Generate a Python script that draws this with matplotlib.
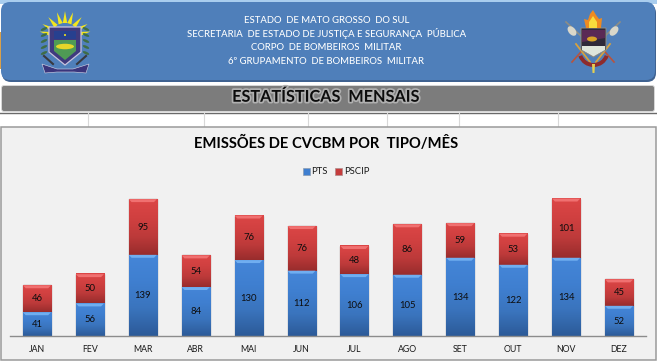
import numpy as np
import matplotlib
matplotlib.use("Agg")
import matplotlib.pyplot as plt
from matplotlib.patches import FancyBboxPatch, Rectangle, Polygon, Circle, Wedge, Ellipse
from matplotlib.colors import LinearSegmentedColormap
import matplotlib.patheffects as pe

# Dados do grafico
meses = ["JAN", "FEV", "MAR", "ABR", "MAI", "JUN", "JUL", "AGO", "SET", "OUT", "NOV", "DEZ"]
pts = [41, 56, 139, 84, 130, 112, 106, 105, 134, 122, 134, 52]
pscip = [46, 50, 95, 54, 76, 76, 48, 86, 59, 53, 101, 45]
cabecalho = [
    "ESTADO  DE MATO GROSSO  DO SUL",
    "SECRETARIA  DE ESTADO DE JUSTIÇA E SEGURANÇA  PÚBLICA",
    "CORPO  DE BOMBEIROS  MILITAR",
    "6º GRUPAMENTO  DE BOMBEIROS  MILITAR",
]

W, H = 657, 361
FONTE = "Lato"
plt.rcParams["font.family"] = [FONTE, "DejaVu Sans"]

fig = plt.figure(figsize=(W / 100, H / 100), dpi=100, facecolor="white")

# Camada de fundo em coordenadas de pixel
bg = fig.add_axes([0, 0, 1, 1], zorder=0)
bg.set_xlim(0, W)
bg.set_ylim(H, 0)
bg.axis("off")


def caixa(x, y, w, h, r, fc, ec="none", lw=0, z=1):
    p = FancyBboxPatch((x + r, y + r), w - 2 * r, h - 2 * r,
                       boxstyle=f"round,pad={r},rounding_size={r}",
                       fc=fc, ec=ec, lw=lw, zorder=z)
    bg.add_patch(p)
    return p


# Faixa azul do cabecalho
bg.add_patch(Rectangle((0, 0), W, 4, fc="#a9cdee", ec="none", zorder=0))
bg.add_patch(Rectangle((0, 32), 2, 37, fc="#d9a04a", ec="none", zorder=0))
caixa(2, 4, 654, 78, 9, "#3f6291", z=1)
caixa(1, 2, 654, 78, 9, "#4f7fba", z=2)
for i, linha in enumerate(cabecalho):
    bg.text(326.5, [20.5, 33.5, 47.5, 61.5][i], linha, color="white", fontsize=6.88, fontweight="medium",
            ha="center", va="center", zorder=5)

# Faixa cinza do titulo
caixa(1, 85, 654, 27, 3, "#d6d6d6", z=1)
caixa(2, 86, 652, 25, 2, "#7c7c7c", z=2)
bg.text(326, 97.5, "ESTATÍSTICAS  MENSAIS", fontsize=11.7, fontweight="bold", color="#0c0c0c",
        ha="center", va="center", zorder=5,
        path_effects=[pe.withStroke(linewidth=2.5, foreground="#b0b0b0")])

# Linha branca com as divisorias da planilha
bg.plot([0, W], [112.5, 112.5], color="#6a6a6a", lw=1, zorder=3)
for x in [87.5, 203.5, 307.5, 386.5, 458.5, 557.5]:
    bg.plot([x, x], [113, 126], color="#d8d8d8", lw=0.8, zorder=3)

# Painel do grafico
bg.add_patch(Rectangle((0.5, 126.5), 655.5, 233.5, fc="#f1f1f1", ec="#9a9a9a", lw=1.1, zorder=3))

# Brasao de MS (esquerda)
raios = np.radians([-78, -60, -40, -18, 0, 18, 40, 60, 78])
for a in raios:
    cx, cy = 65, 37
    dx, dy = np.sin(a), -np.cos(a)
    nx, ny = -dy, dx
    r0, r1 = 14, 26
    bg.add_patch(Polygon([(cx + dx * r0 - nx * 2.2, cy + dy * r0 - ny * 2.2),
                          (cx + dx * r0 + nx * 2.2, cy + dy * r0 + ny * 2.2),
                          (cx + dx * r1, cy + dy * r1)], fc="#f4e61c", ec="none", zorder=4))
bg.add_patch(Polygon([(49, 27), (81, 27), (81, 52), (65, 65), (49, 52)], fc="#3f3a7e", ec="#c8c3dc", lw=0.9, zorder=5))
bg.add_patch(Rectangle((54, 31), 22, 8, fc="#27408f", ec="none", zorder=6))
bg.add_patch(Circle((65, 35), 1, fc="#f4e61c", ec="none", zorder=7))
bg.add_patch(Polygon([(54, 40), (76, 40), (76, 51), (65, 60), (54, 51)], fc="#4f9a55", ec="none", zorder=6))
bg.add_patch(Ellipse((65, 46.5), 18, 5.5, fc="#e5d52a", ec="none", zorder=7))
for lado in (-1, 1):
    for yy in [29, 35, 41, 47, 53]:
        bg.add_patch(Ellipse((65 + lado * 21, yy), 7, 2.6, angle=lado * 25, fc="#3f6d45", ec="none", zorder=4))
    bg.plot([65 + lado * 21, 65 + lado * 12], [56, 64], color="#38393f", lw=1.5, zorder=4)
bg.add_patch(Polygon([(42, 64), (57, 69), (73, 69), (89, 64), (86, 73), (74, 72), (57, 72), (45, 73)],
                     fc="#3a357c", ec="#d8d8e8", lw=0.4, zorder=6))

# Brasao do CBM (direita)
for lado in (-1, 1):
    bg.plot([593 - lado * 3, 593 + lado * 27], [50, 22], color="#8d8d84", lw=1.2, zorder=4)
    bg.add_patch(Ellipse((593 + lado * 21, 31), 7, 11, angle=lado * 40, fc="#d9d7ca", ec="none", zorder=4))
    bg.plot([593 + lado * 5, 593 + lado * 21], [44, 62], color="#b9533c", lw=1.2, zorder=4)
    bg.plot([593 + lado * 3, 593 + lado * 17], [62, 44], color="#d9a23c", lw=1.3, zorder=4)
bg.add_patch(Polygon([(581, 28), (606, 28), (606, 50), (593.5, 57), (581, 50)], fc="#2f2a3a", ec="#8e8e86", lw=0.7, zorder=5))
bg.add_patch(Polygon([(582, 30), (605, 30), (605, 38), (582, 42)], fc="#5a2a55", ec="none", zorder=6))
bg.add_patch(Ellipse((592, 39), 10, 5, fc="#d9a326", ec="none", zorder=7))
bg.add_patch(Polygon([(582, 46), (605, 46), (605, 50), (593.5, 56.5), (582, 50)], fc="#dfe6dc", ec="none", zorder=6))
bg.add_patch(Polygon([(586, 28), (584, 19), (588, 20), (590, 14), (593, 10), (596, 15), (599, 19), (602, 18), (601, 28)],
                     fc="#ee8a20", ec="none", zorder=6))
bg.add_patch(Polygon([(589, 28), (589, 22), (593, 16), (597, 22), (597, 28)], fc="#f8dc3c", ec="none", zorder=7))
bg.add_patch(Wedge((593.5, 51), 16, 20, 160, width=4, fc="#8e2b2b", ec="none", zorder=6))
bg.add_patch(Polygon([(592, 64), (595, 64), (594.5, 73), (592.5, 73)], fc="#e3cf52", ec="none", zorder=6))

# Eixo do grafico
base_px, topo_px = 336.3, 190.0
esq_px, dir_px = 10.5, 645.5
ax = fig.add_axes([esq_px / W, 1 - base_px / H, (dir_px - esq_px) / W, (base_px - topo_px) / H],
                  zorder=2, facecolor="none")

x = np.arange(len(meses))
azul = LinearSegmentedColormap.from_list("azul", ["#4586d8", "#3f7fd0", "#3a74bd", "#2c5a98"])
verm = LinearSegmentedColormap.from_list("verm", ["#dc4646", "#d04040", "#bd3a3a", "#982c2c"])
grad = np.linspace(0, 1, 128).reshape(-1, 1)


def barras(valores, base, cmap, brilho, borda):
    # a borda fica por baixo do gradiente, so aparece um fio em volta da barra
    rects = ax.bar(x, valores, width=0.53, bottom=base, color="none", edgecolor=borda, linewidth=1.0, zorder=1.5)
    for r in rects:
        x0, y0, w, h = r.get_x(), r.get_y(), r.get_width(), r.get_height()
        ax.imshow(grad, extent=(x0, x0 + w, y0, y0 + h), origin="upper", cmap=cmap, aspect="auto", zorder=2,
                  vmin=0, vmax=1)
        # brilho no topo da barra, como no efeito 3D do Excel
        ax.add_patch(Polygon([(x0, y0 + h), (x0 + w, y0 + h), (x0 + w * 0.9, y0 + h - 5), (x0 + w * 0.1, y0 + h - 5)],
                             fc=brilho, ec="none", zorder=2.5))
    return rects


barras(pts, 0, azul, "#70aef0", "#8f99a6")
barras(pscip, pts, verm, "#f07070", "#a89090")
ax.set_xlim(-0.5, 11.5)
ax.set_ylim(0, (base_px - topo_px) / 0.586)

for i in x:
    ax.text(i, pts[i] / 2, str(pts[i]), ha="center", va="center", fontsize=6.8, color="#0d0d0d", zorder=5)
    ax.text(i, pts[i] + pscip[i] / 2, str(pscip[i]), ha="center", va="center", fontsize=6.8, color="#0d0d0d", zorder=5)

for s in ["top", "left", "right"]:
    ax.spines[s].set_visible(False)
ax.spines["bottom"].set_color("#8c8c8c")
ax.spines["bottom"].set_linewidth(1.0)
ax.spines["bottom"].set_zorder(6)
ax.set_yticks([])
ax.set_xticks(x)
ax.set_xticklabels(meses, fontsize=6.3, color="#1a1a1a")
ax.tick_params(axis="x", length=0, pad=6)

# Titulo e legenda do grafico
bg.text(326.5, 143.5, "EMISSÕES DE CVCBM POR  TIPO/MÊS", fontsize=10.65, fontweight="bold",
        color="black", ha="center", va="center", zorder=5)
bg.add_patch(Rectangle((303, 168), 6.5, 6.5, fc="#3f7fd0", ec="#8c9cb0", lw=0.5, zorder=5))
bg.text(311.5, 171, "PTS", fontsize=6.8, color="#1a1a1a", ha="left", va="center", zorder=5)
bg.add_patch(Rectangle((335, 168), 6.5, 6.5, fc="#c53c3c", ec="#b08c8c", lw=0.5, zorder=5))
bg.text(344.5, 171, "PSCIP", fontsize=6.8, color="#1a1a1a", ha="left", va="center", zorder=5)

fig.savefig("out.png", dpi=100, facecolor="white")
